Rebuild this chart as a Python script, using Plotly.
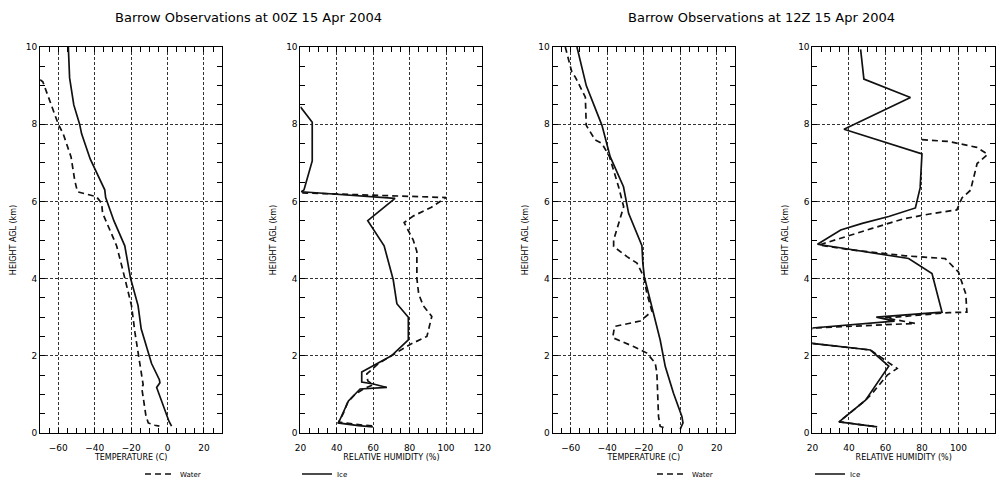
import plotly.graph_objects as go

# ---------------- data ----------------
# Panel 1: Temperature 00Z (solid) and dew point (dashed)
t00_h = [10.0, 9.2, 8.5, 8.0, 7.75, 7.1, 6.3, 6.1, 5.5, 4.85, 4.0, 3.3, 2.7, 1.8, 1.38, 1.3, 1.18, 0.7, 0.3, 0.18]
t00_t = [-54.5, -53.8, -51.5, -48.3, -47.2, -42.5, -34.5, -34.0, -29.5, -23.5, -20.3, -16.2, -14.5, -8.8, -4.5, -4.2, -6.0, -2.5, 0.8, 2.2]
td00_h = [9.15, 9.1, 8.0, 7.75, 7.15, 6.55, 6.25, 6.12, 5.95, 5.7, 5.15, 4.85, 4.3, 3.8, 3.3, 2.6, 1.8, 1.25, 1.18, 0.45, 0.26, 0.2, 0.18]
td00_t = [-70, -68.5, -60, -57.3, -53, -51, -49.5, -39, -36.2, -35.7, -30.7, -28, -25, -22.5, -19.8, -17.9, -15.2, -13.4, -14.2, -11.9, -10.6, -7, -4.5]

# Panel 2: Relative humidity 00Z
ice00_h = [8.45, 8.05, 7.05, 6.3, 6.25, 6.08, 5.5, 4.85, 3.97, 3.35, 3.0, 2.41, 2.0, 1.58, 1.32, 1.27, 1.18, 1.14, 0.83, 0.26, 0.19, 0.16]
ice00_rh = [20, 26.5, 26.5, 22, 20.5, 72, 57, 66, 71, 73, 79.3, 79.3, 70, 53.7, 53.7, 60.1, 67.5, 52.8, 46.4, 40.9, 51.9, 59.8]
wat00_h = [6.22, 6.1, 5.85, 5.62, 5.45, 5.0, 4.7, 4.0, 3.6, 3.3, 3.02, 2.5, 2.3, 2.06, 1.8, 1.53, 1.35, 1.25, 1.15, 1.0, 0.8, 0.5, 0.28, 0.2, 0.18]
wat00_rh = [21, 100, 92, 82, 77, 82, 84, 84, 85, 87.5, 92.2, 89.5, 80.5, 72, 62.9, 56.5, 57, 60, 55, 50, 46, 43.5, 41, 55, 60]

# Panel 3: Temperature 12Z
t12_h = [10.0, 9.0, 7.97, 7.16, 6.38, 5.69, 4.85, 4.4, 4.05, 3.1, 2.41, 1.72, 1.03, 0.43, 0.26, 0.1]
t12_t = [-56.6, -51.5, -42.9, -38.4, -31.1, -28.3, -21, -20.5, -19.7, -14.6, -11, -8.2, -3.7, 0.9, 1.5, 0]
td12_h = [10.0, 9.35, 9.22, 8.7, 7.97, 7.59, 7.5, 7.16, 6.38, 5.86, 5.0, 4.83, 4.57, 4.4, 4.05, 3.62, 3.15, 2.9, 2.76, 2.47, 2.24, 2.07, 1.81, 1.55, 0.43, 0.17, 0.13]
td12_t = [-63, -59.4, -57.5, -52, -51.5, -46.6, -42.9, -38.8, -33.8, -31, -36.5, -36.5, -29.2, -23.7, -20, -18.3, -15.5, -22, -36, -37, -25.6, -18.3, -13.7, -12.8, -11.9, -11, -8.2]

# Panel 4: Relative humidity 12Z
ice12_h = [9.94, 9.17, 8.69, 7.87, 7.23, 6.61, 6.35, 5.83, 5.61, 5.43, 5.26, 4.89, 4.52, 4.13, 3.13, 3.0, 2.9, 2.72, 2.52, 2.32, 2.15, 1.73, 0.85, 0.29, 0.16]
ice12_rh = [46.4, 48.2, 73.7, 37.3, 80, 79.1, 79, 76.4, 61.8, 47.3, 35.5, 22.8, 72.7, 85.5, 91, 55, 65, 20, 16, 20, 51.8, 61.8, 49.1, 34.6, 55.5]
wat12_h = [7.6, 7.55, 7.4, 7.22, 6.98, 6.6, 6.29, 6.09, 5.78, 5.68, 5.55, 5.3, 5.04, 4.87, 4.75, 4.59, 4.52, 4.17, 3.6, 3.13, 3.12, 2.98, 2.84, 2.72, 2.52, 2.32, 2.15, 1.67, 1.5, 1.03, 0.85, 0.29, 0.16]
wat12_rh = [80, 95, 110, 116, 110.2, 108, 106.6, 101.9, 99.1, 85, 70, 52.7, 34.6, 23.6, 40, 70.9, 92.7, 100, 104, 104.6, 95, 60, 76.4, 20, 16, 20, 51.8, 66.4, 61, 52.8, 49.1, 34.6, 55.5]

titles = ["Barrow Observations at 00Z 15 Apr 2004", "Barrow Observations at 12Z 15 Apr 2004"]
temp_title = "TEMPERATURE (C)"
rh_title = "RELATIVE HUMIDITY (%)"
height_title = "HEIGHT AGL (km)"
temp_range = [-70, 30]
rh_range = [20, 120]
height_range = [0, 10]

# ---------------- figure ----------------
W, H = 1001, 483
BLACK = "#000000"
FONT = "DejaVu Sans"
fig = go.Figure()

def add(x, y, n, dash, name=None, legend=None):
    fig.add_trace(go.Scatter(
        x=x, y=y, xaxis="x" if n == 1 else f"x{n}", yaxis="y" if n == 1 else f"y{n}",
        mode="lines", line=dict(color="#111111", width=1.7, dash=dash),
        name=name or "", showlegend=legend is not None, legend=legend or "legend",
        hoverinfo="skip"))

SOLID = "solid"
DASH = "6px,4px"
add(t00_t, t00_h, 1, SOLID)
add(td00_t, td00_h, 1, DASH)
add(wat00_rh, wat00_h, 2, DASH, "Water", "legend")
add(ice00_rh, ice00_h, 2, SOLID, "Ice", "legend2")
add(t12_t, t12_h, 3, SOLID)
add(td12_t, td12_h, 3, DASH)
add(wat12_rh, wat12_h, 4, DASH, "Water", "legend3")
add(ice12_rh, ice12_h, 4, SOLID, "Ice", "legend4")

ydom = [1 - 433 / H, 1 - 47 / H]
xdoms = [[40.1 / W, 222.2 / W], [300.4 / W, 482.4 / W], [552.5 / W, 735 / W], [812.4 / W, 995 / W]]
tickfont = dict(family=FONT, size=9, color=BLACK)
titlefont = dict(family=FONT, size=8, color=BLACK)

common = dict(showline=True, linecolor=BLACK, linewidth=1, mirror="ticks",
              ticks="inside", ticklen=5, tickwidth=1, tickcolor=BLACK,
              showgrid=True, gridcolor="#333333", gridwidth=1, griddash="3px,2px",
              zeroline=False, tickfont=tickfont, fixedrange=True)

layout = {}
for i in range(4):
    n = i + 1
    sx = "" if n == 1 else str(n)
    is_temp = i in (0, 2)
    layout[f"xaxis{sx}"] = dict(
        common, domain=xdoms[i], anchor=f"y{sx}",
        range=temp_range if is_temp else rh_range,
        tick0=-60 if is_temp else 20, dtick=20,
        minor=dict(dtick=5, tick0=-70 if is_temp else 20, ticks="inside", ticklen=5, tickcolor=BLACK, showgrid=False),
        ticklabelstandoff=6,
        title=dict(text=temp_title if is_temp else rh_title, font=titlefont, standoff=1),
        automargin=False)
    layout[f"yaxis{sx}"] = dict(
        common, domain=ydom, anchor=f"x{sx}", range=height_range,
        tick0=0, dtick=2,
        minor=dict(dtick=0.5, tick0=0, ticks="inside", ticklen=5, tickcolor=BLACK, showgrid=False),
        title=dict(text=height_title, font=titlefont, standoff=8),
        automargin=False)

legend_x = [140, 297, 652, 810]
legend_keys = ["legend", "legend2", "legend3", "legend4"]
for k, lx in zip(legend_keys, legend_x):
    layout[k] = dict(x=lx / W, y=1 - 474 / H, xanchor="left", yanchor="middle",
                     bgcolor="rgba(0,0,0,0)", borderwidth=0,
                     font=dict(family=FONT, size=7, color=BLACK))

fig.update_layout(
    width=W, height=H, margin=dict(l=0, r=0, t=0, b=0, autoexpand=False),
    paper_bgcolor="white", plot_bgcolor="white",
    **layout)

for txt, cx in zip(titles, [248, 761]):
    fig.add_annotation(text=txt, x=cx / W, y=1 - 18 / H, xref="paper", yref="paper",
                       xanchor="center", yanchor="middle", showarrow=False,
                       font=dict(family=FONT, size=13, color=BLACK))

fig.write_html("out.html")
